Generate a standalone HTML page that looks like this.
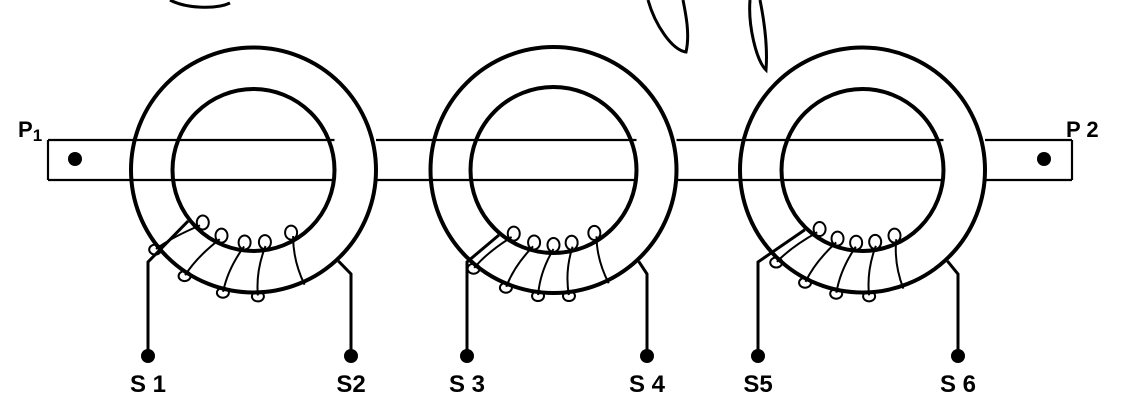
<!DOCTYPE html>
<html><head><meta charset="utf-8"><style>
html,body{margin:0;padding:0;background:#fff;}
svg{display:block;}
text{font-family:"Liberation Sans",sans-serif;font-weight:bold;fill:#000;}
</style></head><body>
<svg id="s" width="1147" height="415" viewBox="0 0 1147 415" xmlns="http://www.w3.org/2000/svg">
  <g fill="none" stroke="#000" stroke-width="3">
    <path d="M648,0 C655,25 672,50 686,52 C690,35 686,15 683,0"/>
    <path d="M750,0 C748,25 756,60 766,70 C768,45 764,20 760,0"/>
    <path d="M170,0 C185,8 215,10 230,3"/>
  </g>
  <g id="bar" stroke="#000" stroke-width="2.2" fill="none"></g>
  <g id="rings"></g>
  <circle cx="75" cy="159" r="7"/>
  <circle cx="1044" cy="159" r="7"/>
  <text x="18" y="137" font-size="22">P<tspan font-size="17" dy="4">1</tspan></text>
  <text x="1066" y="137" font-size="22">P 2</text>
</svg>
<script>
const NS="http://www.w3.org/2000/svg";
const cores=[
 {cx:253.5,cy:170,ro:122.5,ri:81,loops:[-44,-26,-7,9,31],l:148,r:351,la:"S 1",ra:"S2"},
 {cx:553.5,cy:170,ro:123,ri:83,loops:[-32,-15,0,14,33],l:467,r:647,la:"S 3",ra:"S 4"},
 {cx:862.5,cy:170,ro:122.5,ri:81,loops:[-36,-20,-5,10,26],l:758,r:958,la:"S5",ra:"S 6"}
];
function mk(tag,attrs,parent){const e=document.createElementNS(NS,tag);for(const k in attrs)e.setAttribute(k,attrs[k]);parent.appendChild(e);return e;}
const bar=document.getElementById('bar'),rings=document.getElementById('rings');
let xs=[48];
cores.forEach(c=>{xs.push(c.cx+c.ri);xs.push(c.cx+c.ro);});
xs.push(1072);
for(let i=0;i<xs.length;i+=2){
 for(const y of [140,180]){
  const ln=mk('line',{x1:xs[i],y1:y,x2:xs[i+1],y2:y},bar);
  
  
 }
}
mk('line',{x1:48,y1:140,x2:48,y2:180},bar);
mk('line',{x1:1072,y1:140,x2:1072,y2:180},bar);
function pt(c,r,deg){const a=deg*Math.PI/180;return [c.cx+r*Math.sin(a),c.cy+r*Math.cos(a)];}
cores.forEach((c,idx)=>{
 const g=mk('g',{fill:'none',stroke:'#000'},rings);
 
 
 mk('circle',{cx:c.cx,cy:c.cy,r:c.ro,'stroke-width':4},g);
 mk('circle',{cx:c.cx,cy:c.cy,r:c.ri,'stroke-width':4},g);
 const cg=mk('g',{'stroke-width':2},g);
 
 
 c.loops.forEach((a,i)=>{
  const p1=pt(c,c.ri-4,a), p2=pt(c,c.ro+3,a-7);
  const top=pt(c,c.ri-8,a);
  mk('ellipse',{cx:top[0],cy:top[1],rx:6,ry:7},cg);
  if(i<c.loops.length-1){
   const bot=pt(c,c.ro+4,a-7);
   mk('ellipse',{cx:bot[0],cy:bot[1],rx:6,ry:5},cg);
  }
  const mx=(p1[0]+p2[0])/2-6, my=(p1[1]+p2[1])/2;
  mk('path',{d:`M${p1[0]},${p1[1]} Q${mx},${my} ${p2[0]},${p2[1]}`},cg);
 });
 const lp=pt(c,c.ri+2,-(Math.abs(c.loops[0])+8));
 const rp=pt(c,c.ro+2,43);
 const lead1=mk('polyline',{points:`${c.l},356 ${c.l},262 ${lp[0]},${lp[1]}`,'stroke-width':3},g);
 
 
 const lead2=mk('polyline',{points:`${c.r},356 ${c.r},274 ${rp[0]},${rp[1]}`,'stroke-width':3},g);
 
 
 [[c.l,c.la],[c.r,c.ra]].forEach(([x,t])=>{
  const d=mk('circle',{cx:x,cy:356,r:7,fill:'#000',stroke:'none'},rings);
  
  
  const tx=mk('text',{x:x,y:392,'font-size':24,'text-anchor':'middle'},rings);
  tx.textContent=t;
  
  
 });
});
</script>
</body></html>
